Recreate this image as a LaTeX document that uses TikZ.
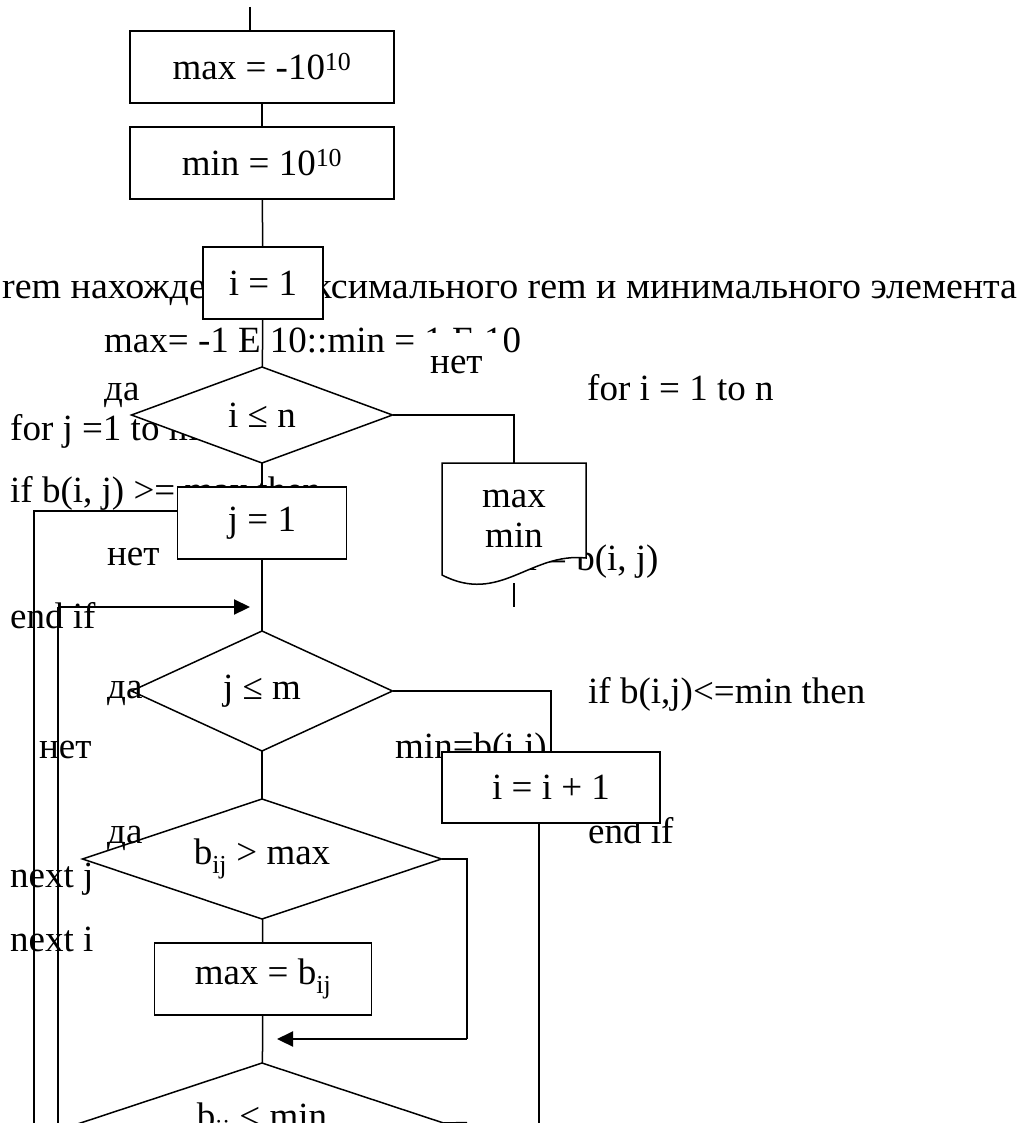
\documentclass[tikz,border=0pt]{standalone}
\usepackage{fontspec}
\setmainfont{Liberation Serif}
\usetikzlibrary{shapes.geometric,arrows.meta}
\begin{document}
\begin{tikzpicture}[x=1pt,y=-1pt,
  every node/.style={font=\fontsize{37}{40}\selectfont},
  conn/.style={line width=1.5pt},
  flowbox/.style={draw,line width=1.5pt,fill=white,rectangle,inner sep=0pt,outer sep=0pt},
  decision/.style={draw,line width=1.5pt,fill=white,diamond,inner sep=0pt,outer sep=0pt},
  code/.style={anchor=base west,inner sep=0pt},
  answer/.style={anchor=base west,inner sep=0pt},
  flowarrow/.style={line width=2.2pt,-{Triangle[length=16pt,width=15pt]}}]
\useasboundingbox (0,0) rectangle (1018,1123);

% program listing behind the flowchart
\node[code] (c1)  at (2,298)   {\scalebox{1.026}[1]{rem нахождение максимального rem и минимального элемента}};
\node[code] (c2)  at (104,352) {max= -1 E 10::min = 1 E 10};
\node[code] (c3)  at (587,400) {for i = 1 to n};
\node[code] (c4)  at (10,440)  {for j =1 to m};
\node[code] (c5)  at (10,502)  {if b(i, j) >= max then};
\node[code] (c6)  at (473,570) {max = b(i, j)};
\node[code] (c7)  at (10,628)  {end if};
\node[code] (c8)  at (588,703) {if b(i,j)<=min then};
\node[code] (c9)  at (395,758) {min=b(i,j)};
\node[code] (c10) at (588,843) {end if};
\node[code] (c11) at (10,887)  {next j};
\node[code] (c12) at (10,951)  {next i};

% output (document) symbol
\path[draw,conn,fill=white] (442,463) -- (586,463) -- (586,558)
  .. controls (530,552) and (500,605) .. (442,575) -- cycle;
\node[inner sep=0pt,minimum width=144pt,minimum height=112pt,align=center] (out) at (514,519) {max\\min};

% flowchart blocks
\node[flowbox,minimum width=264pt,minimum height=72pt] (maxinit) at (262,67) {max = -10\textsuperscript{10}};
\node[flowbox,minimum width=264pt,minimum height=72pt] (mininit) at (262,163) {min = 10\textsuperscript{10}};
\node[flowbox,minimum width=120pt,minimum height=72pt] (iinit) at (263,283) {i = 1};
\node[decision,aspect=2.7,minimum width=261pt,minimum height=96pt] (icond) at (262,415) {i ≤ n};
\node[flowbox,minimum width=169pt,minimum height=72pt] (jinit) at (262,523) {j = 1};
\node[decision,aspect=2.2,minimum width=261pt,minimum height=120pt] (jcond) at (262,691) {j ≤ m};
\node[flowbox,minimum width=218pt,minimum height=71pt] (iinc) at (551,787.5) {i = i + 1};
\node[decision,aspect=3,minimum width=359pt,minimum height=120pt] (gtmax) at (262,859) {b\textsubscript{ij} > max};
\node[flowbox,minimum width=217pt,minimum height=72pt] (setmax) at (263,979) {max = b\textsubscript{ij}};
\node[decision,aspect=3,minimum width=363pt,minimum height=120pt] (ltmin) at (262,1123) {b\textsubscript{ij} < min};

% free ends of connectors
\coordinate (start) at (250,7);
\coordinate (outend) at (514,607);
\coordinate (outwave) at (514,583);
\coordinate (outerloop) at (34,1123);
\coordinate (innerloop) at (58,1123);
\coordinate (innerturn) at (58,607);
\coordinate (innertip) at (250,607);
\coordinate (incdown) at (539,1123);
\coordinate (skipturn) at (467,1039);
\coordinate (skiptip) at (277,1039);
\coordinate (minright) at (467,1122.5);

% connectors
\draw[conn] (start) -- (start |- maxinit.north);
\draw[conn] (maxinit) -- (mininit);
\draw[conn] (mininit) -- (iinit);
\draw[conn] (iinit) -- (icond);
\draw[conn] (icond.east) -| (out.north);
\draw[conn] (outwave) -- (outend);
\draw[conn] (icond) -- (jinit);
\draw[conn] ([yshift=12pt]jinit.west) -| (outerloop);
\draw[conn] (innerloop) -- (innerturn);
\draw[flowarrow] (innerturn) -- (innertip);
\draw[conn] (jinit) -- (jcond);
\draw[conn] (jcond.east) -| (iinc.north);
\draw[conn] (incdown |- iinc.south) -- (incdown);
\draw[conn] (jcond) -- (gtmax);
\draw[conn] (gtmax.east) -| (skipturn);
\draw[flowarrow] (skipturn) -- (skiptip);
\draw[conn] (gtmax) -- (setmax);
\draw[conn] (setmax) -- (ltmin);
\draw[conn] (ltmin.east) -- (minright);

% branch labels
\node[answer,fill=white,inner xsep=5pt,text width=69pt,align=left,text height=40pt,text depth=10pt] (no1) at (425,373) {нет};
\node[answer] (yes1) at (104,400) {да};
\node[answer] (no2) at (107,565) {нет};
\node[answer] (yes2) at (107,698) {да};
\node[answer] (no3) at (39,758) {нет};
\node[answer] (yes3) at (107,843) {да};
\end{tikzpicture}
\end{document}
